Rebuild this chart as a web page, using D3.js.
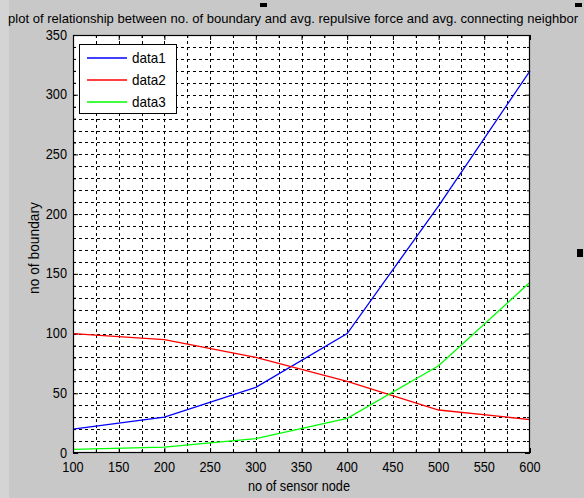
<!DOCTYPE html>
<html><head><meta charset="utf-8">
<script src="https://cdn.jsdelivr.net/npm/d3@7"></script>
<style>body{margin:0;background:#c8c8c8}svg{display:block}text{font-family:Arial,"Liberation Sans",sans-serif;fill:#000}</style>
</head><body>
<script>
const xValues = [100, 200, 300, 400, 500, 600];
const data1 = [20, 30, 55, 100, 207, 320];
const data2 = [100, 95, 80, 60, 36, 28];
const data3 = [3, 5, 12, 29, 73, 143];
const seriesNames = ["data1", "data2", "data3"];
const seriesColors = ["#0000ff", "#ff0000", "#00ff00"];
const xTicks = [100, 150, 200, 250, 300, 350, 400, 450, 500, 550, 600];
const yTicks = [0, 50, 100, 150, 200, 250, 300, 350];
const titleText = "plot of relationship between no. of boundary and avg. repulsive force and avg. connecting neighbor";
const xLabel = "no of sensor node";
const yLabel = "no of boundary";

const W = 584, H = 498;
const L = 73, R = 530, T = 35, B = 453;
const svg = d3.select("body").append("svg").attr("width", W).attr("height", H);
svg.append("rect").attr("width", W).attr("height", H).attr("fill", "#c8c8c8");
svg.append("rect").attr("width", 9).attr("height", H).attr("fill", "#d4d4d4");

const x = d3.scaleLinear().domain([100, 600]).range([L, R]);
const y = d3.scaleLinear().domain([0, 350]).range([B, T]);

svg.append("rect").attr("x", L).attr("y", T).attr("width", R - L).attr("height", B - T).attr("fill", "#fff");

// grid (major + minor), dashed
const gx = d3.range(100, 601, 25), gy = d3.range(0, 351, 10);
svg.append("g").selectAll("line").data(gx.filter(v => v > 100 && v < 600)).join("line")
  .attr("x1", d => Math.round(x(d)) + 0.5).attr("x2", d => Math.round(x(d)) + 0.5)
  .attr("y1", T).attr("y2", B).attr("stroke", "#000").attr("stroke-width", 1).attr("stroke-dasharray", "3,3");
svg.append("g").selectAll("line").data(gy.filter(v => v > 0 && v < 350)).join("line")
  .attr("y1", d => Math.round(y(d)) + 0.5).attr("y2", d => Math.round(y(d)) + 0.5)
  .attr("x1", L).attr("x2", R).attr("stroke", "#000").attr("stroke-width", 1).attr("stroke-dasharray", "3,3");

function styleAxis(g) {
  g.select(".domain").remove();
  g.selectAll("line").attr("stroke", "#000");
  g.selectAll("text").remove();
}
const minorX = gx.filter(v => !xTicks.includes(v));
const minorY = gy.filter(v => !yTicks.includes(v));
svg.append("g").attr("transform", `translate(0,${B})`).call(d3.axisBottom(x).tickValues(xTicks).tickSizeInner(-5).tickSizeOuter(0)).call(styleAxis);
svg.append("g").attr("transform", `translate(0,${B})`).call(d3.axisBottom(x).tickValues(minorX).tickSizeInner(-3).tickSizeOuter(0)).call(styleAxis);
svg.append("g").attr("transform", `translate(0,${T})`).call(d3.axisTop(x).tickValues(xTicks).tickSizeInner(-5).tickSizeOuter(0)).call(styleAxis);
svg.append("g").attr("transform", `translate(0,${T})`).call(d3.axisTop(x).tickValues(minorX).tickSizeInner(-3).tickSizeOuter(0)).call(styleAxis);
svg.append("g").attr("transform", `translate(${L},0)`).call(d3.axisLeft(y).tickValues(yTicks).tickSizeInner(-5).tickSizeOuter(0)).call(styleAxis);
svg.append("g").attr("transform", `translate(${L},0)`).call(d3.axisLeft(y).tickValues(minorY).tickSizeInner(-3).tickSizeOuter(0)).call(styleAxis);
svg.append("g").attr("transform", `translate(${R},0)`).call(d3.axisRight(y).tickValues(yTicks).tickSizeInner(-5).tickSizeOuter(0)).call(styleAxis);
svg.append("g").attr("transform", `translate(${R},0)`).call(d3.axisRight(y).tickValues(minorY).tickSizeInner(-3).tickSizeOuter(0)).call(styleAxis);

// series lines
const line = d3.line().x((d, i) => x(xValues[i])).y(d => y(d));
[data1, data2, data3].forEach((s, i) => {
  svg.append("path").datum(s).attr("d", line).attr("fill", "none")
    .attr("stroke", seriesColors[i]).attr("stroke-width", 1.3);
});

// frame
svg.append("rect").attr("x", L + 0.5).attr("y", T + 0.5).attr("width", R - L - 1).attr("height", B - T - 1)
  .attr("fill", "none").attr("stroke", "#000").attr("stroke-width", 1.2);

// tick labels (condensed)
const sx = 0.88;
xTicks.forEach(v => {
  svg.append("text").attr("transform", `translate(${x(v)},472) scale(${sx},1)`)
    .attr("text-anchor", "middle").attr("font-size", 14.5).text(v);
});
yTicks.forEach(v => {
  svg.append("text").attr("transform", `translate(67,${y(v) + 4.5}) scale(${sx},1)`)
    .attr("text-anchor", "end").attr("font-size", 14.5).text(v);
});

// title & axis labels
svg.append("text").attr("x", 8).attr("y", 23).attr("font-size", 13.5)
  .attr("textLength", 570).attr("lengthAdjust", "spacingAndGlyphs").text(titleText);
svg.append("text").attr("x", 248).attr("y", 491).attr("font-size", 14)
  .attr("textLength", 102).attr("lengthAdjust", "spacingAndGlyphs").text(xLabel);
svg.append("text").attr("transform", `translate(39,${(T + B) / 2 + 4}) rotate(-90)`).attr("text-anchor", "middle")
  .attr("font-size", 14).attr("textLength", 92).attr("lengthAdjust", "spacingAndGlyphs").text(yLabel);

// legend
const lg = svg.append("g");
lg.append("rect").attr("x", 79.5).attr("y", 44.5).attr("width", 97).attr("height", 69)
  .attr("fill", "#fff").attr("stroke", "#000").attr("stroke-width", 1);
seriesNames.forEach((n, i) => {
  const yy = 58 + i * 22;
  lg.append("line").attr("x1", 87).attr("x2", 127).attr("y1", yy).attr("y2", yy)
    .attr("stroke", seriesColors[i]).attr("stroke-width", 1.3);
  lg.append("text").attr("transform", `translate(132,${yy + 5}) scale(0.9,1)`).attr("font-size", 15).text(n);
});

// figure selection handles
[[260, 3, 7, 4], [575, 3, 7, 4], [577, 249, 6, 8]].forEach(r => {
  svg.append("rect").attr("x", r[0]).attr("y", r[1]).attr("width", r[2]).attr("height", r[3]).attr("fill", "#000");
});
</script>
</body></html>
